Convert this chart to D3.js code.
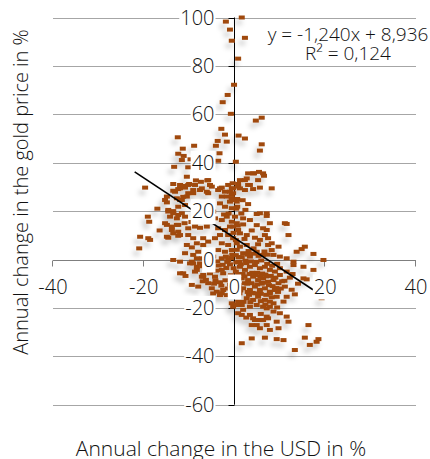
<!DOCTYPE html>
<html>
<head>
<meta charset="utf-8">
<script src="https://cdn.jsdelivr.net/npm/d3@7"></script>
<style>
  html, body { margin: 0; padding: 0; background: #fff; }
  svg { display: block; font-family: "Open Sans", sans-serif; font-weight: 300; }
</style>
</head>
<body>
<svg id="chart" width="430" height="459"></svg>
<script>
// annual change in USD (x) vs annual change in gold price (y), both in %
const observations = [
  [1.6,100],[-1.9,98.3],[-1,95],[-0.6,90.4],[2.3,91.6],[0.8,83],[-0.1,72.2],[-1.5,68],[-2.6,65],[-0.8,60.2],
  [4.7,57.4],[6,58.6],[-2.9,54],[-2.1,51.6],[0.9,51.2],[2.3,50],[-12.5,50.5],[-3.7,49],[-1.7,48.7],[-4.1,47],
  [-8.9,47],[-11.4,45.8],[6,47.6],[5.6,45],[-12.4,43.7],[-11.2,42.8],[-11.6,41.1],[-9.7,41.4],[-13.3,38.3],[-10.2,38.1],
  [-10.5,34.2],[-3.3,43.9],[-3.6,40.8],[0.3,40.4],[4.3,35.6],[5.4,36.2],[6.5,34.6],[2.7,33.5],[1.2,32.8],[3.4,30.8],
  [0.8,31.2],[5.6,29.7],[8.2,29.4],[-0.4,31.5],[-19.7,29.7],[-13.5,31.2],[-11.3,30.4],[-10,31.2],[-8.5,32.7],[-7.4,32.1],
  [-6,32.7],[-5.4,30.8],[-2.8,29.7],[-12.4,29.1],[-15.3,24.6],[-14.9,23.6],[-13.5,28.4],[-12,29.4],[-10.9,29.7],[-12.7,25.3],
  [-12,24.6],[-11.3,25.9],[-14.6,20.5],[-13.5,20],[-12.4,18.4],[-14.2,17.7],[-12.7,17],[-10.9,17.7],[-19.1,17.7],[-18.8,15.6],
  [-14.9,14.3],[-13.8,13.6],[-12.4,14.3],[-13.8,12.2],[-12.4,11.5],[-10.2,12.9],[-8.7,13.6],[-7.6,13.1],[-6.1,13.6],[-20.8,9.4],
  [-19,8.8],[-18.6,8.1],[-14.6,9],[-12.4,9.8],[-10.2,10.1],[-9.1,8.8],[-21,4.6],[-10.5,6],[-9.4,5],[-8.3,6.7],
  [-6.9,8.8],[-6.9,6],[-5.8,7.4],[-10.9,2.6],[-9.1,1.9],[-8,3.2],[-7.2,0.5],[-9.4,-0.9],[-13.1,28],[-10.2,27.4],
  [-9.1,28.7],[-7.2,29.4],[-6.1,28],[-5,30.1],[-3.6,28.7],[-2.8,26],[-2.1,28],[-0.6,29.4],[-0.6,25.3],[-4.3,17],
  [-2.8,16.3],[-1.7,17.7],[-0.6,15.6],[-3.6,12.9],[-2.1,12.2],[-1,13.6],[-3.2,10.1],[-1.4,10.1],[-0.3,8.8],[-4.3,8.8],
  [-2.8,6.7],[-1.4,6],[-3.6,3.9],[-2.1,3.2],[-0.6,3.9],[-4.7,1.2],[-2.8,0.5],[-1.4,-0.2],[-0.3,29.4],[0.8,30.1],
  [2.3,28.7],[3,30.8],[4.1,29.1],[0.5,23.9],[0.6,21.8],[3,22.9],[-0.6,26.7],[-0.6,24.6],[4.9,18.8],[7.1,18],
  [0.1,17.7],[1.9,17],[3.4,16.3],[0.5,15],[1.9,14.5],[-0.3,13.6],[0.8,12.2],[6.3,12.9],[7.1,12.2],[11.5,14.7],
  [11.9,10.1],[6.7,10.1],[1.2,10.8],[2.7,10.1],[4.5,9],[5.6,8.1],[7.4,8.8],[8.2,6.7],[9.7,5.3],[7.4,6],
  [5.2,6.3],[15.5,5.3],[14.8,4.3],[13.7,3.2],[17.4,2.3],[19.6,-0.2],[8.2,3.9],[8.6,1.9],[10,1.2],[11.5,0.5],
  [13,-0.9],[6.3,1.9],[4.9,3.2],[3.4,1.2],[1.9,2.6],[1.2,5.3],[0.5,6.7],[2.7,6],[-11.3,-5.7],[-8.7,-5],
  [-6.9,-6.4],[-5.4,-5.7],[-4.3,-7.1],[-2.5,-5.7],[-2.8,-4.3],[-6.5,-3.6],[-8.3,-3],[-9.8,-1.6],[-9.4,-10.5],[-8,-11.2],
  [-5,-11.9],[-3.9,-13.3],[-2.8,-14],[-2.5,-12.6],[0.1,-15.4],[0.8,-17.4],[1.6,-18.8],[0.8,-22.2],[1.6,-22.9],[3.4,-22.9],
  [4.1,-24.3],[5.2,-25],[6.3,-25],[7.4,-24.3],[10,-22.2],[11.5,-23.6],[11.9,-25.7],[4.9,-27.1],[3.8,-27.1],[5.6,-28.4],
  [7.1,-27.1],[7.8,-29.1],[9.3,-25.7],[9.7,-28.4],[3.8,-32.6],[6.7,-32.3],[9.3,-32.9],[10.8,-33.3],[1.6,-34.6],[13.3,-37.4],
  [15.5,-32.3],[16.6,-35.3],[18.1,-34],[18.5,-32.9],[16.3,-27.1],[15.2,-3],[17.4,-4.3],[13,-2.3],[11.5,-5],[10,-6.4],
  [15.2,-7.8],[15.9,-8.2],[13.3,-14.4],[11.1,-11.2],[11.5,-15.4],[7.8,-14],[9.3,-15.4],[10.8,-17.4],[8.6,-18.1],[7.1,-20.2],
  [7.8,-19.5],[19.2,-16],[1.2,-3],[2.3,-4.3],[3.4,-3],[4.5,-2.3],[5.6,-3.6],[6.7,-3],[7.8,-4.3],[8.9,-5],
  [10,-3.6],[1.6,-7.8],[3,-8.5],[4.1,-7.1],[5.2,-8.5],[6.3,-7.8],[7.4,-9.2],[8.6,-8.5],[9.7,-9.8],[1.9,-11.9],
  [3.4,-12.6],[4.5,-11.2],[5.6,-12.6],[6.7,-11.9],[7.8,-13.3],[8.9,-12.6],[2.7,-16],[4.1,-16.7],[5.2,-15.4],[6.7,-16.7],
  [7.8,-17.4],[4.9,-18.8],[3.4,-19.5],[6.3,-19.5],[-0.6,-18.1],[0.5,-18.8],[-0.3,-19.5],[-0.5,2],[0.5,4],[1,-1],
  [-1,-2],[0.3,8],[-0.2,11],[0.7,14],[1.5,19],[0.4,21],[-15.3,15],[-12.7,14.3],[-13.5,-0.2],[-12,-0.9],
  [-9.1,-1.6],[-8.3,-4.3],[-7.2,-7.1],[-12,-5.7],[-10.8,-6.8],[-3.2,-14.7],[7.8,15],[11.1,15],[4.5,-25],[7.1,-23.6],
  [-14.9,9.4],[-13.5,10.8],[-12,10.1],[-8.3,0.5],[-7.6,-1.6],[-6.1,-0.9],[-6.9,-7.1],[-4.7,-14],[-1.7,-14.7],[-12,30.8],
  [-10.2,30.8],[-8.7,30.8],[-5.8,32.8],[-3.2,29.4],[-1.4,30.8],[-1,28],[-1.7,26],[-1,23.9],[-2.1,21.8],[-0.6,21.2],
  [-3.2,23.2],[-4.7,19.8],[-5.8,27.4],[-7.6,28.7],[-9.1,27.4],[-10.5,26],[-11.6,24.6],[-10.9,22.5],[-12.4,21.8],[-14.9,26],
  [-14.6,19.8],[-13.5,19.1],[-11.6,19.1],[2.3,32.8],[3,35.6],[4.1,35.6],[6.3,35.6],[5.2,32.8],[7.1,19.1],[5.6,19.1],
  [1.2,29.4],[-0.3,27.4],[-7,-9],[-5.8,-9.8],[-4.5,-10],[-3.2,-9.4],[-2,-8.6],[-1,-10.4],[-0.8,-6.5],[-1.8,-3.5],
  [-3.5,-2.5],[-5,-1.5],[-4,-4.6],[0.3,-5],[0.6,-9],[0.2,-12.5],[1.1,-14],[2.4,-0.5],[3.1,3.5],[4.2,4.6],
  [2.2,8.5],[3.8,12],[4.9,14.2],[-1.9,1.2],[-0.2,-3.6],[0.9,0.9],[1.8,-6],[2.8,-10],[3.9,-5.5],[5,-5.5],
  [6.1,-5.8],[7,-7],[6,-10],[4.6,-14],[3.2,-14.6],[9.4,-1.8],[8.4,-11],[10.5,-9],[12.2,-7.5],[12.6,-12.5],
  [14,-10],[0.6,25],[1.8,24.5],[2.4,20.5],[-1.3,19],[-2.3,18.6],[-5.3,15.5],[-7.5,16.8],[-8.6,20.6],[-7,24],
  [-6,21],[-9.5,15.5],[-11,15],[-16.5,12],[-17,21],
  [0.4,-1.2],[1.4,-2],[2.6,-1.5],[3.6,-0.8],[4.8,-1],[5.9,-0.4],[7.2,-1.8],[8.3,-2.6],[0.8,-6],[2.2,-7],
  [3.3,-6],[4.6,-6.5],[5.7,-7],[6.8,-6.2],[8,-6.8],[9,-7.5],[0.9,-10.5],[2.3,-9.8],[3.7,-9.8],[5,-10.3],
  [6.3,-9.6],[7.6,-10.6],[9.2,-11.8],[1.3,-12.8],[2.9,-13.4],[4,-13.8],[5.8,-14.2],[7,-14.6],[8.2,-15.6],[2,-17.5],
  [3.5,-17.6],[5.8,-17.2],[6.8,-18.6],[9.6,-13.4],[10.2,-12],[11,-8.8],[12.8,-6],[0.3,1.8],[1.6,1],[2.9,2],
  [4.1,2.4],[5.3,1.5],[6.6,3.3],[7.3,2],[-0.7,0.6],[-1.6,-1],[-2.6,-2.2],[-3.8,-0.8],[-4.9,-3],[-5.9,-4.2],
  [-7.1,-2.8],[-6.3,-8.4],[-4.2,-8.6],[-2.9,-10.8],[-1.5,-12],[-0.5,-8],[-0.4,-14.5],[1.9,-20.8],[2.6,-24],[5.8,-22.5],
  [8.6,-21.5],[9.4,-19.8]
];

const usdTicks = [-40, -20, 0, 20, 40];
const goldTicks = [-60, -40, -20, 0, 20, 40, 60, 80, 100];

// linear trend as printed on the chart
const trendSlope = -1.240;
const trendIntercept = 8.936;
const trendSpan = [-22, 17.3];
const equationLines = ["y = -1,240x + 8,936", "R² = 0,124"];

const xTitle = "Annual change in the USD in %";
const yTitle = "Annual change in the gold price in %";

const svg = d3.select("#chart");

const x = d3.scaleLinear().domain([-40, 40]).range([53, 416]);
const y = d3.scaleLinear().domain([-60, 100]).range([404.7, 17.5]);

const defs = svg.append("defs");
defs.append("filter")
    .attr("id", "shadow")
    .attr("x", "-50%").attr("y", "-50%")
    .attr("width", "200%").attr("height", "200%")
  .append("feDropShadow")
    .attr("dx", -3)
    .attr("dy", 5)
    .attr("stdDeviation", 2.5)
    .attr("flood-color", "#000")
    .attr("flood-opacity", 0.22);

// horizontal gridlines
svg.append("g")
    .attr("stroke", "#a6a6a6")
    .attr("stroke-width", 1)
  .selectAll("line")
  .data(goldTicks.filter(d => d !== 0))
  .join("line")
    .attr("x1", x(-40)).attr("x2", x(40))
    .attr("y1", d => Math.round(y(d)) + 0.5)
    .attr("y2", d => Math.round(y(d)) + 0.5);

// x axis through y = 0
const y0 = Math.round(y(0)) + 0.5;
const xAxis = svg.append("g").attr("stroke", "#7f7f7f");
xAxis.append("line")
    .attr("x1", x(-40)).attr("x2", x(40))
    .attr("y1", y0).attr("y2", y0);
xAxis.selectAll("line.tick")
  .data(usdTicks)
  .join("line")
    .attr("class", "tick")
    .attr("x1", d => Math.round(x(d)) - 0.5)
    .attr("x2", d => Math.round(x(d)) - 0.5)
    .attr("y1", y0).attr("y2", y0 + 6);

// y axis through x = 0
const x0 = Math.round(x(0)) - 0.5;
const yAxis = svg.append("g").attr("stroke", "#000");
yAxis.append("line")
    .attr("x1", x0).attr("x2", x0)
    .attr("y1", y(100)).attr("y2", y(-60));
yAxis.selectAll("line.tick")
  .data(goldTicks)
  .join("line")
    .attr("class", "tick")
    .attr("x1", x0 - 6).attr("x2", x0)
    .attr("y1", d => Math.round(y(d)) + 0.5)
    .attr("y2", d => Math.round(y(d)) + 0.5);

// scatter points
svg.append("g")
    .attr("filter", "url(#shadow)")
    .attr("fill", "#a04a10")
  .selectAll("rect")
  .data(observations)
  .join("rect")
    .attr("x", d => x(d[0]) - 3)
    .attr("y", d => y(d[1]) - 2)
    .attr("width", 6)
    .attr("height", 4);

// trend line
svg.append("path")
    .datum(trendSpan.map(v => [v, trendSlope * v + trendIntercept]))
    .attr("fill", "none")
    .attr("stroke", "#000")
    .attr("stroke-width", 1.6)
    .attr("d", d3.line().x(d => x(d[0])).y(d => y(d[1])));

// tick labels with white boxes
function boxedLabel(g) {
  g.each(function () {
    const t = d3.select(this).select("text");
    const b = t.node().getBBox();
    d3.select(this).insert("rect", "text")
        .attr("x", b.x - 1).attr("y", b.y + 2)
        .attr("width", b.width + 2).attr("height", b.height - 2)
        .attr("fill", "#fff");
  });
}

const labelFont = 20;
const textColor = "#111";

svg.append("g")
  .selectAll("g")
  .data(goldTicks)
  .join("g")
  .call(g => g.append("text")
      .attr("x", x0 - 20)
      .attr("y", d => y(d))
      .attr("dy", "0.35em")
      .attr("text-anchor", "end")
      .attr("font-size", labelFont)
      .attr("fill", textColor)
      .text(d => d))
  .call(boxedLabel);

svg.append("g")
  .selectAll("g")
  .data(usdTicks)
  .join("g")
  .call(g => g.append("text")
      .attr("x", d => x(d))
      .attr("y", y0 + 33)
      .attr("text-anchor", "middle")
      .attr("font-size", labelFont)
      .attr("fill", textColor)
      .text(d => d))
  .call(boxedLabel);

// regression equation
svg.append("g")
  .selectAll("text")
  .data(equationLines)
  .join("text")
    .attr("x", 348)
    .attr("y", (d, i) => 40.5 + i * 19.5)
    .attr("text-anchor", "middle")
    .attr("font-size", 19)
    .attr("fill", textColor)
    .text(d => d);

// axis titles
svg.append("text")
    .attr("x", 221)
    .attr("y", 456)
    .attr("text-anchor", "middle")
    .attr("font-size", 21)
    .attr("fill", textColor)
    .text(xTitle);

svg.append("text")
    .attr("transform", "translate(28,192) rotate(-90)")
    .attr("text-anchor", "middle")
    .attr("font-size", labelFont)
    .attr("fill", textColor)
    .text(yTitle);
</script>
</body>
</html>
